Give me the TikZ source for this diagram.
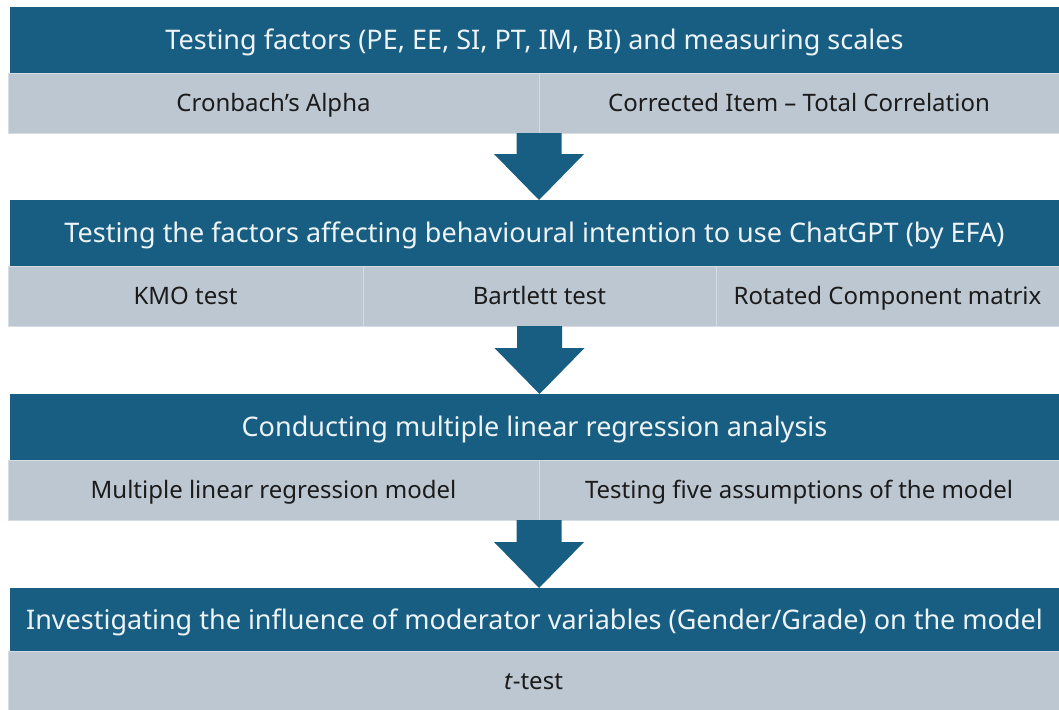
\documentclass[tikz,border=0pt]{standalone}
\usepackage{fontspec}
\setmainfont{Noto Sans}
\usetikzlibrary{calc}
\definecolor{band}{HTML}{175E82}
\definecolor{cell}{HTML}{BDC7D1}
\definecolor{rule}{HTML}{D5DCE3}
\definecolor{ink}{HTML}{1B1B1B}
\definecolor{hdrtext}{HTML}{EEF3F6}
\begin{document}
\begin{tikzpicture}[x=1pt,y=-1pt,
  hdr/.style={fill=band, text=hdrtext, font=\fontsize{27}{32}\selectfont,
    text height=19.3pt, text depth=0pt,
    inner sep=0pt, outer sep=0pt, anchor=north west, minimum height=66pt},
  cellbox/.style={fill=cell, draw=rule, line width=1pt, text=ink,
    font=\fontsize{24}{28}\selectfont, text height=17.1pt, text depth=0pt,
    inner sep=0pt, outer sep=0pt, anchor=north west, minimum height=60pt},
  flow/.style={fill=band}]
\fill[white] (0,0) rectangle (1059,709);
\useasboundingbox (0,0) rectangle (1059,709);

% stage 1
\node[hdr, minimum width=1049pt] (h1) at (10,7)
  {Testing factors (PE, EE, SI, PT, IM, BI) and measuring scales};
\node[cellbox, minimum width=531pt] (c11) at (8,73) {Cronbach’s Alpha};
\node[cellbox, minimum width=520pt] (c12) at (539,73) {Corrected Item – Total Correlation};

% stage 2
\node[hdr, minimum width=1049pt] (h2) at (10,200)
  {Testing the factors affecting behavioural intention to use ChatGPT (by EFA)};
\node[cellbox, minimum width=355pt] (c21) at (8,266) {KMO test};
\node[cellbox, minimum width=353pt] (c22) at (363,266) {Bartlett test};
\node[cellbox, minimum width=343pt] (c23) at (716,266) {Rotated Component matrix};

% stage 3
\node[hdr, minimum width=1049pt] (h3) at (10,394)
  {Conducting multiple linear regression analysis};
\node[cellbox, minimum width=531pt] (c31) at (8,460) {Multiple linear regression model};
\node[cellbox, minimum width=520pt] (c32) at (539,460) {Testing five assumptions of the model};

% stage 4
\node[hdr, minimum width=1049pt, minimum height=63pt] (h4) at (10,588)
  {Investigating the influence of moderator variables (Gender/Grade) on the model};
\node[cellbox, minimum width=1051pt, minimum height=59pt] (c41) at (8,651) {\textit{t}-test};

% block arrows between stages
\coordinate (s1) at (c11.south east);
\coordinate (s2) at (c22.south);
\coordinate (s3) at (c31.south east);
\foreach \s/\h in {s1/h2, s2/h3, s3/h4}{
  \fill[flow] let \p1=(\s), \p2=(\s |- \h.north) in
    (\x1-22.5pt,\y1) -- (\x1+22.5pt,\y1) -- (\x1+22.5pt,\y2+46pt)
    -- (\x1+45pt,\y2+46pt) -- (\x1,\y2) -- (\x1-45pt,\y2+46pt)
    -- (\x1-22.5pt,\y2+46pt) -- cycle;
}
\end{tikzpicture}
\end{document}
